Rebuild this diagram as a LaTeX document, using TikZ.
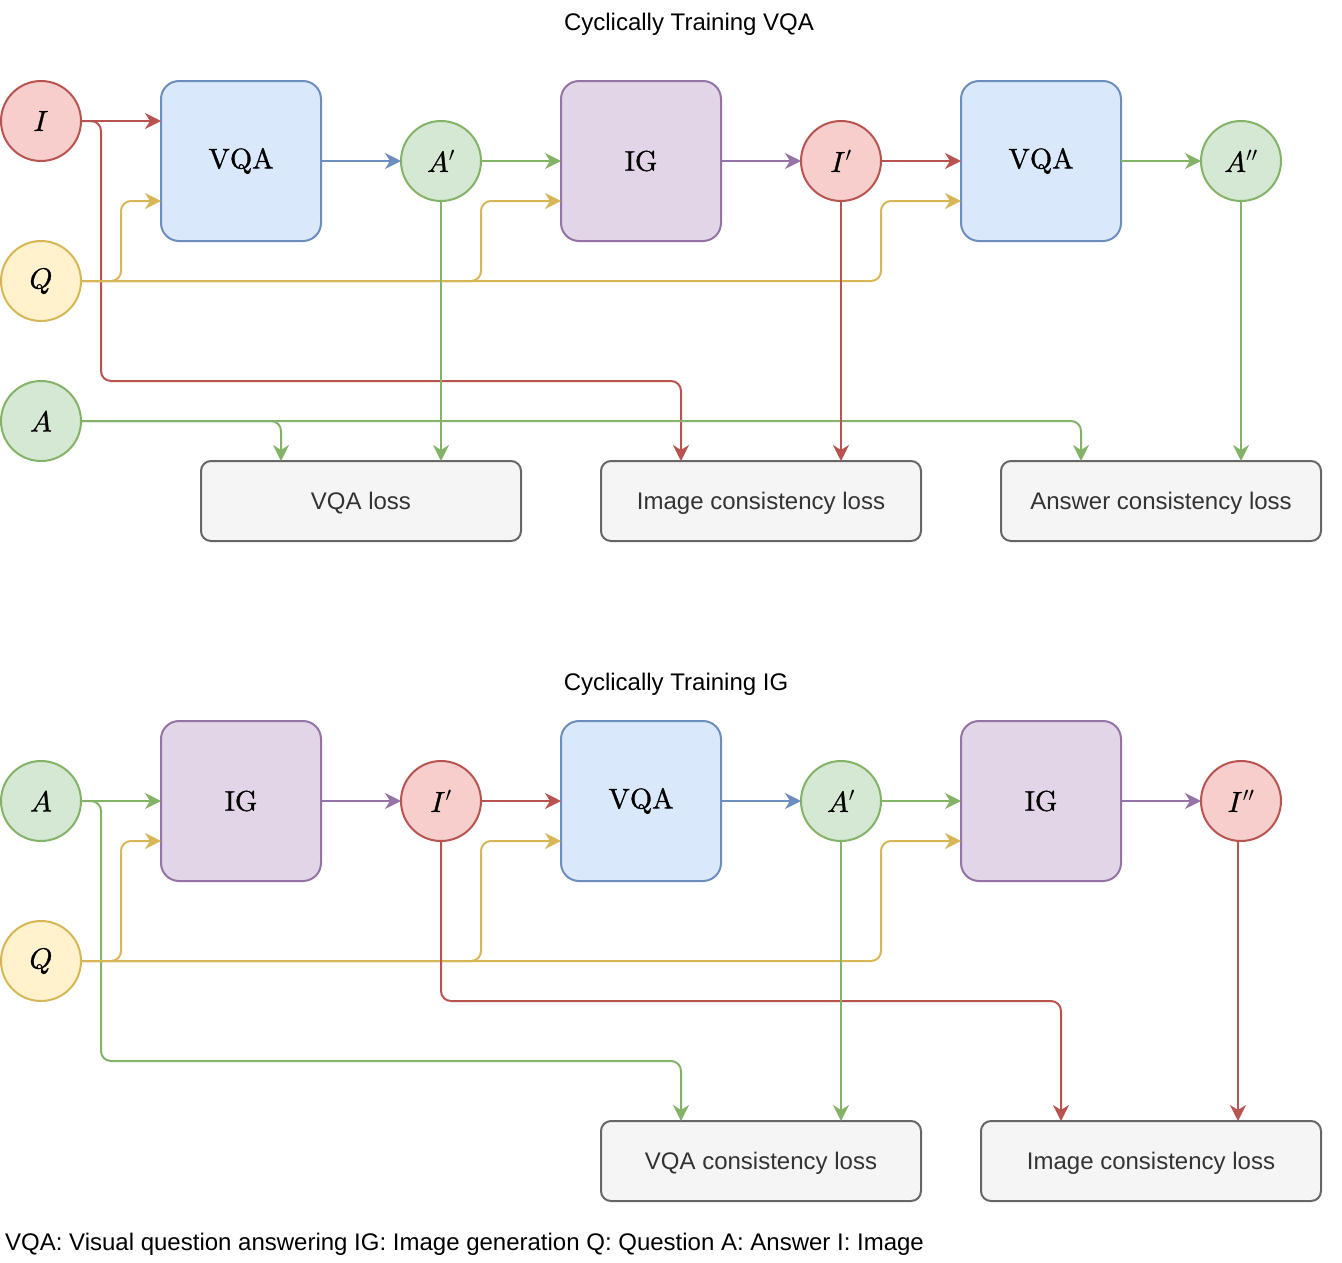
\documentclass[tikz,border=0pt]{standalone}
\usepackage{fontspec}
\usepackage{unicode-math}
\setmathfont{latinmodern-math.otf}[FakeBold=1.0]
\newfontfamily\arialf{Liberation Sans}
\font\cmsyP=cmsy10 at 20.3pt
\newcommand\myprime{\hbox{\cmsyP\char"30}}
\usetikzlibrary{arrows.meta,calc}
\definecolor{redF}{HTML}{F8CECC}\definecolor{redS}{HTML}{B85450}
\definecolor{yelF}{HTML}{FFF2CC}\definecolor{yelS}{HTML}{D6B656}
\definecolor{grnF}{HTML}{D5E8D4}\definecolor{grnS}{HTML}{82B366}
\definecolor{bluF}{HTML}{DAE8FC}\definecolor{bluS}{HTML}{6C8EBF}
\definecolor{purF}{HTML}{E1D5E7}\definecolor{purS}{HTML}{9673A6}
\definecolor{gryF}{HTML}{F5F5F5}\definecolor{gryS}{HTML}{666666}\definecolor{gryT}{HTML}{333333}
\begin{document}
\begin{tikzpicture}[x=1pt,y=-1pt,
  circ/.style={circle,draw,line width=2pt,minimum size=80pt,inner sep=0pt,outer sep=0pt,font=\fontsize{29}{32}\selectfont},
  redc/.style={circ,draw=redS,fill=redF},
  yelc/.style={circ,draw=yelS,fill=yelF},
  grnc/.style={circ,draw=grnS,fill=grnF},
  bigbox/.style={rectangle,rounded corners=18pt,draw,line width=2pt,minimum width=160pt,minimum height=160pt,inner sep=0pt,outer sep=0pt,font=\fontsize{28.5}{32}\selectfont},
  vqabox/.style={bigbox,draw=bluS,fill=bluF},
  igbox/.style={bigbox,draw=purS,fill=purF},
  lossbox/.style={rectangle,rounded corners=10pt,draw=gryS,fill=gryF,line width=2pt,minimum height=80pt,inner sep=0pt,outer sep=0pt,text=gryT,font=\arialf\fontsize{24}{28}\selectfont,text height=17.2pt,text depth=0pt},
  label/.style={inner sep=0pt,font=\arialf\fontsize{24}{28}\selectfont,text height=17.2pt,text depth=0pt},
  conn/.style={line width=2pt,rounded corners=10pt,-{Stealth[length=16pt,width=16pt,inset=5pt]}},
]
\useasboundingbox (0,0) rectangle (1342,1262);

% ---------- Top diagram ----------
\node[label] (t1) at (689,22) {Cyclically Training VQA};
\node[redc] (I) at (41,121) {$I$};
\node[yelc] (Q) at (41,281) {$Q$};
\node[grnc] (A) at (41,421) {$A$};
\node[vqabox] (V1) at (241,161) {$\symup{VQA}$};
\node[grnc] (Ap) at (441,161) {$A^{\myprime}$};
\node[igbox] (G1) at (641,161) {$\symup{IG}$};
\node[redc] (Ip) at (841,161) {$I^{\myprime}$};
\node[vqabox] (V2) at (1041,161) {$\symup{VQA}$};
\node[grnc] (App) at (1241,161) {$A^{\myprime\myprime}$};
\node[lossbox,minimum width=320pt] (L1) at (361,501) {VQA loss};
\node[lossbox,minimum width=320pt] (L2) at (761,501) {Image consistency loss};
\node[lossbox,minimum width=320pt] (L3) at (1161,501) {Answer consistency loss};

\draw[conn,redS] (I.east) -- ($(V1.west)+(0,-40)$);
\draw[conn,redS] (I.east) -| ($(I.east)+(20,260)$) -| ($(L2.north)+(-80,0)$);
\draw[conn,yelS] (Q.east) -| ($(V1.west)+(-40,40)$) -- ($(V1.west)+(0,40)$);
\draw[conn,yelS] (Q.east) -| ($(G1.west)+(-80,40)$) -- ($(G1.west)+(0,40)$);
\draw[conn,yelS] (Q.east) -| ($(V2.west)+(-80,40)$) -- ($(V2.west)+(0,40)$);
\draw[conn,grnS] (A.east) -| ($(L1.north)+(-80,0)$);
\draw[conn,grnS] (A.east) -| ($(L3.north)+(-80,0)$);
\draw[conn,bluS] (V1.east) -- (Ap.west);
\draw[conn,grnS] (Ap.east) -- (G1.west);
\draw[conn,grnS] (Ap.south) -- (Ap.south |- L1.north);
\draw[conn,purS] (G1.east) -- (Ip.west);
\draw[conn,redS] (Ip.east) -- (V2.west);
\draw[conn,redS] (Ip.south) -- (Ip.south |- L2.north);
\draw[conn,grnS] (V2.east) -- (App.west);
\draw[conn,grnS] (App.south) -- (App.south |- L3.north);

% ---------- Bottom diagram ----------
\node[label] (t2) at (676,682) {Cyclically Training IG};
\node[grnc] (bA) at (41,801) {$A$};
\node[yelc] (bQ) at (41,961) {$Q$};
\node[igbox] (bG1) at (241,801) {$\symup{IG}$};
\node[redc] (bIp) at (441,801) {$I^{\myprime}$};
\node[vqabox] (bV) at (641,801) {$\symup{VQA}$};
\node[grnc] (bAp) at (841,801) {$A^{\myprime}$};
\node[igbox] (bG2) at (1041,801) {$\symup{IG}$};
\node[redc] (bIpp) at (1241,801) {$I^{\myprime\myprime}$};
\node[lossbox,minimum width=320pt] (L4) at (761,1161) {VQA consistency loss};
\node[lossbox,minimum width=340pt] (L5) at (1151,1161) {Image consistency loss};
\coordinate (bIppOut) at ($(bIpp.south)+(-3,0)$);

\draw[conn,grnS] (bA.east) -- (bG1.west);
\draw[conn,grnS] (bA.east) -| ($(bA.east)+(20,260)$) -| ($(L4.north)+(-80,0)$);
\draw[conn,yelS] (bQ.east) -| ($(bG1.west)+(-40,40)$) -- ($(bG1.west)+(0,40)$);
\draw[conn,yelS] (bQ.east) -| ($(bV.west)+(-80,40)$) -- ($(bV.west)+(0,40)$);
\draw[conn,yelS] (bQ.east) -| ($(bG2.west)+(-80,40)$) -- ($(bG2.west)+(0,40)$);
\draw[conn,purS] (bG1.east) -- (bIp.west);
\draw[conn,redS] (bIp.east) -- (bV.west);
\draw[conn,redS] (bIp.south) -- ($(bIp.south)+(0,160)$) -| ($(L5.north)+(-90,0)$);
\draw[conn,bluS] (bV.east) -- (bAp.west);
\draw[conn,grnS] (bAp.east) -- (bG2.west);
\draw[conn,grnS] (bAp.south) -- (bAp.south |- L4.north);
\draw[conn,purS] (bG2.east) -- (bIpp.west);
\draw[conn,redS] (bIppOut) -- (bIppOut |- L5.north);

% ---------- Footer ----------
\node[label,anchor=west] (foot) at (5,1242) {VQA: Visual question answering IG: Image generation Q: Question A: Answer I: Image};
\end{tikzpicture}
\end{document}
